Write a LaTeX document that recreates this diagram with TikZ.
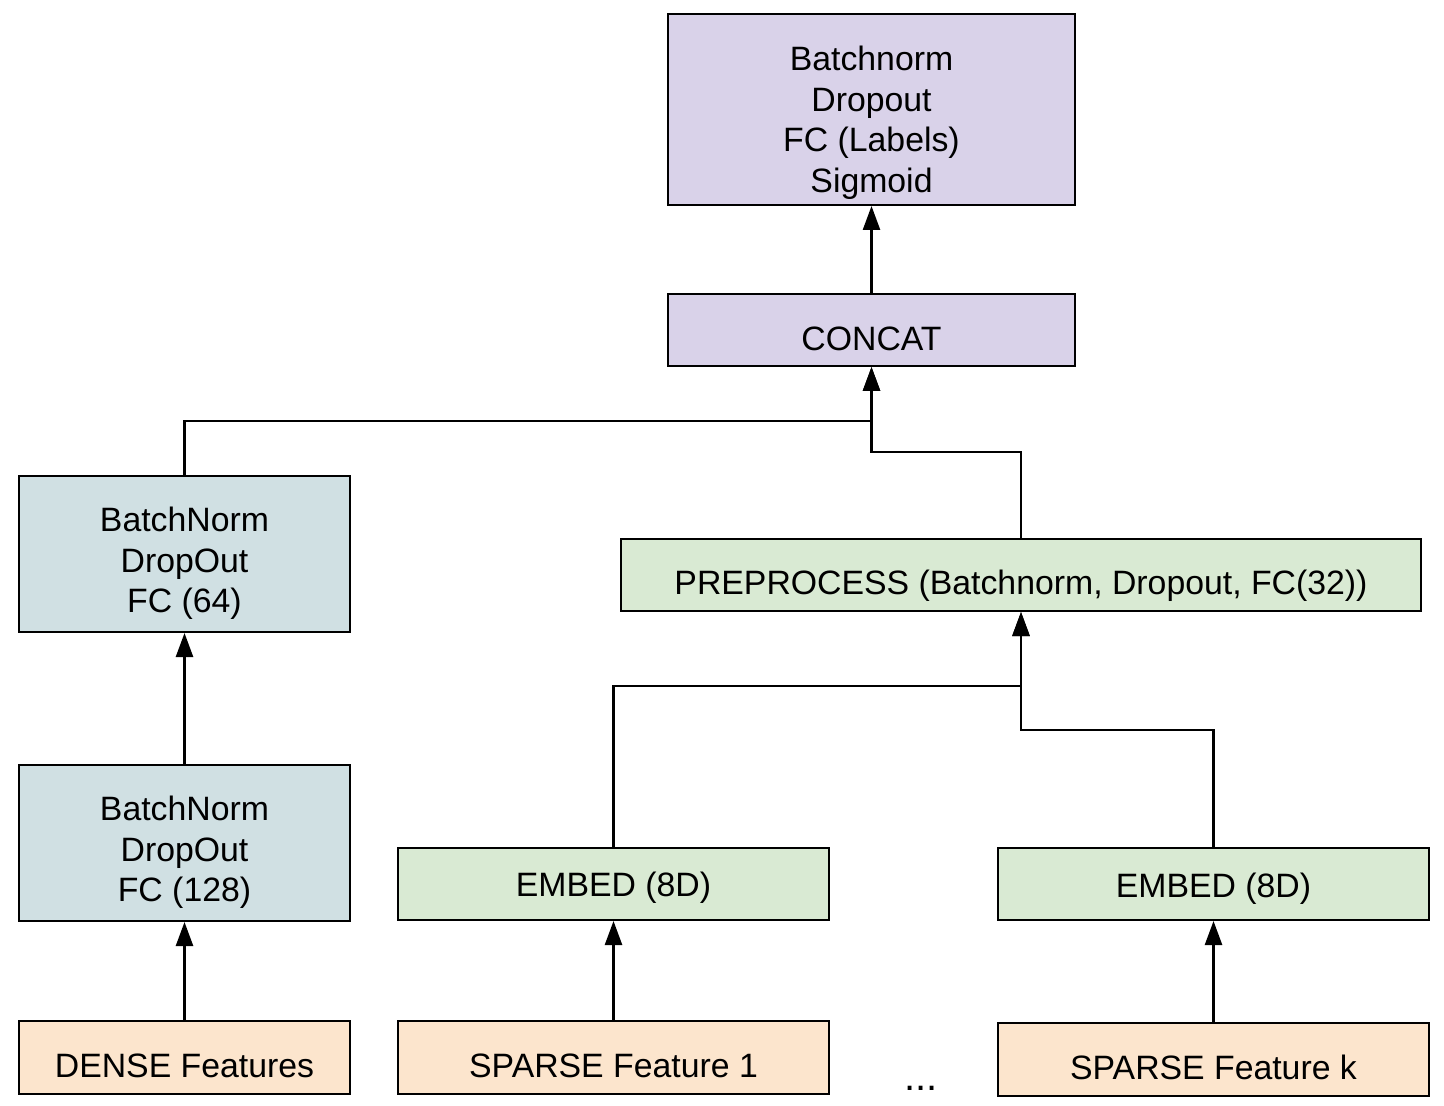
\documentclass[tikz,border=0pt]{standalone}
\usepackage{fontspec}
\setmainfont{Liberation Sans}
\usetikzlibrary{arrows.meta}

\definecolor{headfill}{HTML}{D9D2E9}
\definecolor{densefill}{HTML}{D0E0E3}
\definecolor{sparsefill}{HTML}{D9EAD3}
\definecolor{inputfill}{HTML}{FCE5CD}

\newcommand{\layertext}[2][-6pt]{\raisebox{#1}[\height][\depth]{\begin{tabular}{@{}c@{}}#2\end{tabular}}}

\begin{document}
\begin{tikzpicture}[x=0.5pt, y=-0.5pt,
  every node/.style={font=\fontsize{16.9}{20.2}\selectfont},
  layer/.style={draw, line width=1pt, inner sep=0pt},
  link/.style={line width=1.25pt, -{Triangle[length=12pt, width=8.5pt]}}]
\useasboundingbox (0,0) rectangle (1444,1106);

\node[layer, fill=headfill, minimum width=203.5pt, minimum height=95.5pt] (head) at (871.5,109.5) {\layertext[-7pt]{Batchnorm\\Dropout\\FC (Labels)\\Sigmoid}};
\node[layer, fill=headfill, minimum width=203.5pt, minimum height=36pt] (concat) at (871.5,330) {\layertext{CONCAT}};
\node[layer, fill=densefill, minimum width=165.5pt, minimum height=78pt] (fc64) at (184.5,554) {\layertext[-5pt]{BatchNorm\\DropOut\\FC (64)}};
\node[layer, fill=sparsefill, minimum width=400pt, minimum height=36pt] (pre) at (1021,575) {\layertext[-5.5pt]{PREPROCESS (Batchnorm, Dropout, FC(32))}};
\node[layer, fill=densefill, minimum width=165.5pt, minimum height=78pt] (fc128) at (184.5,843) {\layertext[-5pt]{BatchNorm\\DropOut\\FC (128)}};
\node[layer, fill=sparsefill, minimum width=215.5pt, minimum height=36pt] (emb1) at (613.5,884) {\layertext[-2pt]{EMBED (8D)}};
\node[layer, fill=sparsefill, minimum width=215.5pt, minimum height=36pt] (embk) at (1213.5,884) {\layertext[-2.5pt]{EMBED (8D)}};
\node[layer, fill=inputfill, minimum width=165.5pt, minimum height=36.5pt] (dense) at (184.5,1057.5) {\layertext{DENSE Features}};
\node[layer, fill=inputfill, minimum width=215.5pt, minimum height=36.5pt] (sp1) at (613.5,1057.5) {\layertext{SPARSE Feature 1}};
\node[layer, fill=inputfill, minimum width=215.5pt, minimum height=36.5pt] (spk) at (1213.5,1059) {\layertext{SPARSE Feature k}};
\node[font=\fontsize{20}{24}\selectfont] (dots) at (921,1088) {...};

\coordinate (join1) at (871.5,421);
\coordinate (join2) at (871.5,452);
\coordinate (join3) at (1021,686);
\coordinate (join4) at (1021,730);

\draw[link] (concat) -- (head);
\draw[link] (fc64.north) |- (join1) -- (concat.south);
\draw[link] (pre.north) |- (join2) -- (concat.south);
\draw[link] (fc128) -- (fc64);
\draw[link] (dense) -- (fc128);
\draw[link] (emb1.north) |- (join3) -- (pre.south);
\draw[link] (embk.north) |- (join4) -- (pre.south);
\draw[link] (sp1) -- (emb1);
\draw[link] (spk) -- (embk);
\end{tikzpicture}
\end{document}
